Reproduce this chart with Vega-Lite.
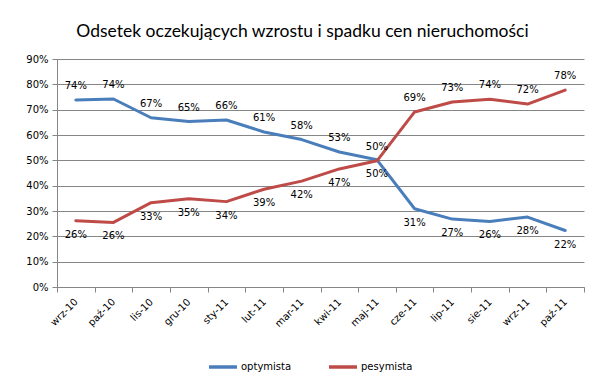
{
  "$schema": "https://vega.github.io/schema/vega-lite/v6.json",
  "autosize": {"type": "none"},
  "width": 527,
  "height": 228,
  "padding": {"left": 57, "top": 59, "right": 22, "bottom": 97},
  "background": "white",
  "title": {
    "text": "Odsetek oczekujących wzrostu i spadku cen nieruchomości",
    "font": "Lato",
    "fontSize": 17.5,
    "fontWeight": "normal",
    "color": "#000000",
    "anchor": "middle",
    "dx": -18,
    "offset": 14
  },
  "data": {
    "values": [
      {"month": "wrz-10", "optymista": 0.738, "pesymista": 0.262},
      {"month": "paź-10", "optymista": 0.742, "pesymista": 0.255},
      {"month": "lis-10", "optymista": 0.668, "pesymista": 0.333},
      {"month": "gru-10", "optymista": 0.653, "pesymista": 0.348},
      {"month": "sty-11", "optymista": 0.659, "pesymista": 0.337},
      {"month": "lut-11", "optymista": 0.612, "pesymista": 0.386},
      {"month": "mar-11", "optymista": 0.582, "pesymista": 0.418},
      {"month": "kwi-11", "optymista": 0.533, "pesymista": 0.466},
      {"month": "maj-11", "optymista": 0.502, "pesymista": 0.498},
      {"month": "cze-11", "optymista": 0.309, "pesymista": 0.691},
      {"month": "lip-11", "optymista": 0.268, "pesymista": 0.730},
      {"month": "sie-11", "optymista": 0.259, "pesymista": 0.741},
      {"month": "wrz-11", "optymista": 0.276, "pesymista": 0.722},
      {"month": "paź-11", "optymista": 0.223, "pesymista": 0.777}
    ]
  },
  "transform": [
    {"fold": ["optymista", "pesymista"], "as": ["series", "value"]}
  ],
  "encoding": {
    "x": {
      "field": "month",
      "type": "ordinal",
      "sort": null,
      "bandPosition": 0.5,
      "scale": {"type": "band", "paddingInner": 0, "paddingOuter": 0},
      "axis": {
        "title": null,
        "labelAngle": -45,
        "labelAlign": "right",
        "labelBaseline": "middle",
        "labelFont": "DejaVu Sans",
        "labelFontSize": 10,
        "labelColor": "#000000",
        "labelPadding": 8,
        "tickBand": "extent",
        "tickSize": 5,
        "tickColor": "#868686",
        "domainColor": "#868686",
        "grid": false
      }
    },
    "y": {
      "field": "value",
      "type": "quantitative",
      "scale": {"domain": [0, 0.9], "nice": false},
      "axis": {
        "title": null,
        "values": [0, 0.1, 0.2, 0.3, 0.4, 0.5, 0.6, 0.7, 0.8, 0.9],
        "format": ".0%",
        "labelFont": "DejaVu Sans",
        "labelFontSize": 10,
        "labelColor": "#000000",
        "labelPadding": 4,
        "tickSize": 5,
        "tickColor": "#868686",
        "domainColor": "#868686",
        "gridColor": "#868686",
        "grid": true
      }
    }
  },
  "layer": [
    {
      "mark": {"type": "line", "strokeWidth": 3, "strokeCap": "round", "strokeJoin": "round"},
      "encoding": {
        "color": {
          "field": "series",
          "type": "nominal",
          "scale": {"domain": ["optymista", "pesymista"], "range": ["#4a7ebb", "#be4b48"]},
          "legend": {
            "title": null,
            "orient": "none",
            "legendX": 150,
            "legendY": 292,
            "direction": "horizontal",
            "symbolType": "stroke",
            "symbolSize": 784,
            "symbolStrokeWidth": 3.5,
            "labelOffset": 2,
            "labelFont": "DejaVu Sans",
            "labelFontSize": 10,
            "labelColor": "#000000",
            "columnPadding": 30
          }
        }
      }
    },
    {
      "transform": [
        {"filter": "(datum.series == 'optymista') == (datum.optymista > datum.pesymista + 0.01)"}
      ],
      "mark": {"type": "text", "dy": -14, "font": "DejaVu Sans", "fontSize": 10, "color": "#000000", "baseline": "middle"},
      "encoding": {"text": {"field": "value", "type": "quantitative", "format": ".0%"}}
    },
    {
      "transform": [
        {"filter": "(datum.series == 'optymista') != (datum.optymista > datum.pesymista + 0.01)"}
      ],
      "mark": {"type": "text", "dy": 14, "font": "DejaVu Sans", "fontSize": 10, "color": "#000000", "baseline": "middle"},
      "encoding": {"text": {"field": "value", "type": "quantitative", "format": ".0%"}}
    }
  ],
  "config": {
    "view": {"stroke": null}
  }
}
